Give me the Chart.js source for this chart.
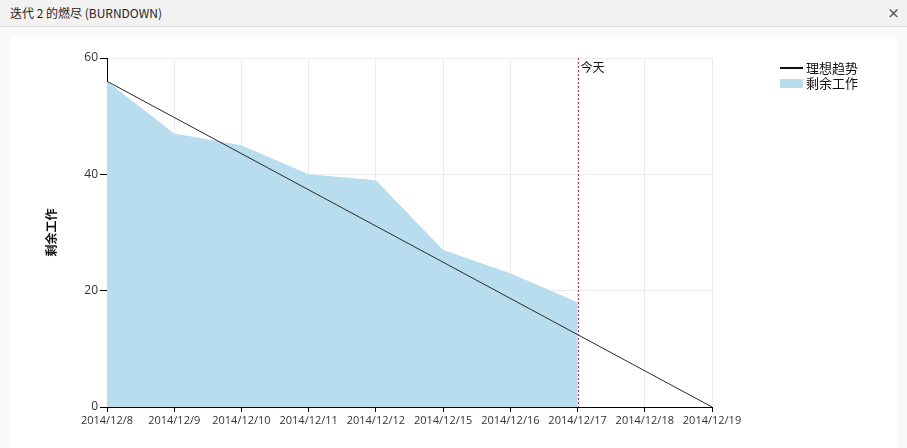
<!DOCTYPE html>
<html>
<head>
<meta charset="utf-8">
<script src="https://cdn.jsdelivr.net/npm/chart.js@4/dist/chart.umd.min.js"></script>
<style>
  html, body { margin: 0; padding: 0; width: 907px; height: 448px; overflow: hidden; background: #f9f9f9; font-family: "Noto Sans CJK SC", "Noto Sans", sans-serif; }
  #hdr { position: absolute; left: 0; top: 0; width: 907px; height: 26px; background: #f2f2f2; border-bottom: 1px solid #dcdcdc; }
  #title { position: absolute; left: 10px; top: 5px; font-size: 12px; color: #222; line-height: 16px; }
  #close { position: absolute; left: 887px; top: 5px; font-size: 13px; font-weight: bold; color: #555; line-height: 16px; }
  #panel { position: absolute; left: 10px; top: 36px; width: 887px; height: 412px; background: #fff; }
  #wrap { position: absolute; left: 0; top: 27px; width: 907px; height: 421px; }
</style>
</head>
<body>
<div id="hdr"><div id="title">迭代 2 的燃尽 (BURNDOWN)</div><div id="close">×</div></div>
<div id="panel"></div>
<div id="wrap"><canvas id="c" width="907" height="421"></canvas></div>
<script>
const categories = ['2014/12/8','2014/12/9','2014/12/10','2014/12/11','2014/12/12','2014/12/15','2014/12/16','2014/12/17','2014/12/18','2014/12/19'];
const remainingWork = [56, 47, 45, 40, 39, 27, 23, 18, null, null];
const idealTrend = [56, null, null, null, null, null, null, null, null, 0];
const yTicks = [0, 20, 40, 60];
const todayLabel = '2014/12/17';
const seriesNames = ['理想趋势', '剩余工作'];
const yTitle = '剩余工作';
const todayText = '今天';

const tickFont = { family: '"Open Sans", "Noto Sans", sans-serif', size: 11 };

const todayPlugin = {
  id: 'today',
  afterDatasetsDraw(chart) {
    const x = chart.scales.x.getPixelForValue(categories.indexOf(todayLabel));
    const a = chart.chartArea;
    const ctx = chart.ctx;
    ctx.save();
    ctx.strokeStyle = '#b03262';
    ctx.lineWidth = 1;
    ctx.setLineDash([2, 2]);
    ctx.beginPath();
    ctx.moveTo(Math.round(x) + 0.5, a.top);
    ctx.lineTo(Math.round(x) + 0.5, a.bottom);
    ctx.stroke();
    ctx.setLineDash([]);
    ctx.fillStyle = '#111';
    ctx.font = '12px "Noto Sans CJK SC", sans-serif';
    ctx.textBaseline = 'middle';
    ctx.textAlign = 'left';
    ctx.fillText(todayText, x + 3, a.top + 9);
    ctx.restore();
  }
};

const legendPlugin = {
  id: 'customLegend',
  afterDraw(chart) {
    const ctx = chart.ctx;
    const x0 = chart.chartArea.right + 68;
    ctx.save();
    ctx.font = '13px "Noto Sans CJK SC", sans-serif';
    ctx.textBaseline = 'middle';
    ctx.fillStyle = '#111';
    ctx.strokeStyle = '#111';
    ctx.lineWidth = 2;
    ctx.beginPath();
    ctx.moveTo(x0, 41); ctx.lineTo(x0 + 23, 41);
    ctx.stroke();
    ctx.fillText(seriesNames[0], x0 + 26, 41);
    ctx.fillStyle = '#b8ddee';
    ctx.fillRect(x0, 52, 23, 9);
    ctx.fillStyle = '#111';
    ctx.fillText(seriesNames[1], x0 + 26, 56);
    ctx.restore();
  }
};

new Chart(document.getElementById('c'), {
  type: 'line',
  data: {
    labels: categories,
    datasets: [
      {
        label: seriesNames[0],
        data: idealTrend,
        borderColor: '#2a2a2a',
        borderWidth: 1,
        pointRadius: 0,
        fill: false,
        spanGaps: true,
        tension: 0,
        order: 0
      },
      {
        label: seriesNames[1],
        data: remainingWork,
        borderColor: 'rgba(0,0,0,0)',
        backgroundColor: '#b8ddee',
        borderWidth: 0,
        pointRadius: 0,
        fill: 'origin',
        tension: 0,
        order: 1
      }
    ]
  },
  options: {
    responsive: false,
    animation: false,
    events: [],
    layout: { padding: { left: 0, right: 195, top: 31, bottom: 0 } },
    plugins: { legend: { display: false }, tooltip: { enabled: false } },
    scales: {
      x: {
        offset: false,
        grid: { color: '#ececec', tickColor: '#000', tickLength: 5, drawOnChartArea: true },
        border: { color: '#000', width: 1 },
        ticks: { color: '#333', font: tickFont, maxRotation: 0, autoSkip: false, padding: 2 },
        afterFit(s) { s.height = 41; }
      },
      y: {
        min: 0, max: 60,
        afterBuildTicks(s) { s.ticks = yTicks.map(v => ({ value: v })); },
        grid: { color: '#ececec', tickColor: '#000', tickLength: 7 },
        border: { color: '#000', width: 1 },
        ticks: { color: '#333', font: { family: '"Open Sans", "Noto Sans", sans-serif', size: 12 }, padding: 2 },
        title: { display: true, text: yTitle, color: '#111', font: { family: '"Noto Sans CJK SC", sans-serif', size: 12, weight: 'bold' }, padding: { top: 44, bottom: 0 } },
        afterFit(s) { s.width = 107; }
      }
    }
  },
  plugins: [todayPlugin, legendPlugin]
});
</script>
</body>
</html>
